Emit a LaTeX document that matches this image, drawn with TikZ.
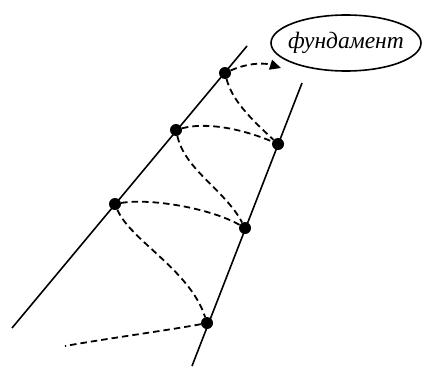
\documentclass[tikz,border=0pt]{standalone}
\usepackage{fontspec}
\newfontfamily\handfont{Liberation Serif}
\usetikzlibrary{arrows.meta,shapes.geometric}
\begin{document}
\begin{tikzpicture}[x=1pt,y=-1pt,
  dot/.style={circle,fill=black,inner sep=0pt,minimum size=12pt},
  link/.style={line width=1.8pt,dash pattern=on 6.5pt off 4pt},
  axis/.style={line width=1.6pt}]
\useasboundingbox (0,0) rectangle (425,367);
% lines
\coordinate (L1) at (12,328);
\coordinate (L2) at (247,46);
\coordinate (R1) at (302,83);
\coordinate (R2) at (192,366);
\draw[axis] (L1) -- (L2);
\draw[axis] (R1) -- (R2);
% dots
\node[dot] (a1) at (225,73) {};
\node[dot] (a2) at (176,130) {};
\node[dot] (a3) at (115,204) {};
\node[dot] (b1) at (278,144) {};
\node[dot] (b2) at (245,228) {};
\node[dot] (b3) at (207,323) {};
% label
\node[inner sep=0pt] (f) at (346,43)
  {\handfont\itshape\fontsize{23.5}{24}\selectfont фундамент};
\draw[line width=1.6pt] (f.center) ellipse [x radius=75pt, y radius=28pt];
\coordinate (free) at (65,346);
% dashed links
\draw[link,-{Triangle[length=11pt,width=10pt]}] (a1) .. controls (245,64) and (262,62) .. (281,68);
\draw[link] (a1) .. controls (232,100) and (250,118) .. (b1);
\draw[link] (a2) .. controls (205,122) and (240,128) .. (b1);
\draw[link] (a2) .. controls (185,170) and (225,190) .. (b2);
\draw[link] (a3) .. controls (150,198) and (210,208) .. (b2);
\draw[link] (a3) .. controls (130,240) and (190,270) .. (b3);
\draw[link] (b3) .. controls (170,330) and (110,338) .. (free);
\end{tikzpicture}
\end{document}
